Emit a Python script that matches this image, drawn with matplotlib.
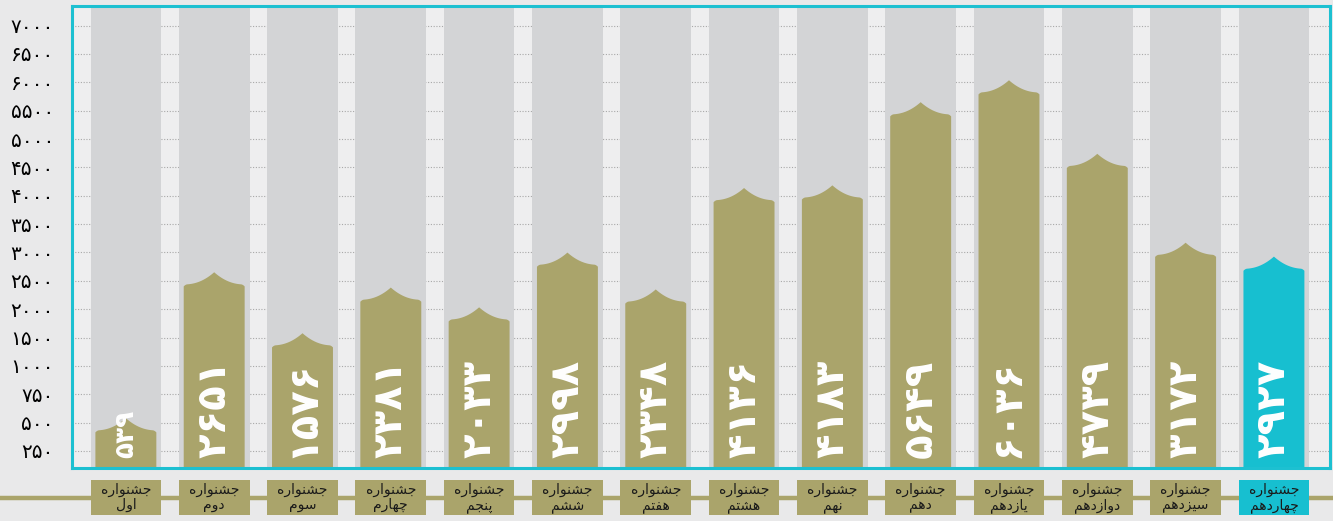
import numpy as np
import matplotlib
matplotlib.use('Agg')
import matplotlib.pyplot as plt
from matplotlib.patches import Polygon, Rectangle
from matplotlib.lines import Line2D

# Data
festivals = ['اول', 'دوم', 'سوم', 'چهارم', 'پنجم', 'ششم', 'هفتم',
             'هشتم', 'نهم', 'دهم', 'یازدهم', 'دوازدهم', 'سیزدهم', 'چهاردهم']
counts = [539, 2651, 1576, 2381, 2033, 2998, 2348,
          4136, 4183, 5649, 6036, 4739, 3172, 2927]
yticks = [250, 500, 750, 1000, 1500, 2000, 2500, 3000, 3500,
          4000, 4500, 5000, 5500, 6000, 6500, 7000]
prefix = 'جشنواره'

OLIVE = '#aaa46b'
CYAN = '#17bfd0'

FA_DIGITS = str.maketrans('0123456789', '۰۱۲۳۴۵۶۷۸۹')

# minimal arabic shaping (matplotlib has no complex text layout)
FORMS = {
    'ا': ('\uFE8D', '\uFE8E', None, None),
    'پ': ('\uFB56', '\uFB57', '\uFB58', '\uFB59'),
    'ت': ('\uFE95', '\uFE96', '\uFE97', '\uFE98'),
    'ج': ('\uFE9D', '\uFE9E', '\uFE9F', '\uFEA0'),
    'چ': ('\uFB7A', '\uFB7B', '\uFB7C', '\uFB7D'),
    'د': ('\uFEA9', '\uFEAA', None, None),
    'ر': ('\uFEAD', '\uFEAE', None, None),
    'ز': ('\uFEAF', '\uFEB0', None, None),
    'س': ('\uFEB1', '\uFEB2', '\uFEB3', '\uFEB4'),
    'ش': ('\uFEB5', '\uFEB6', '\uFEB7', '\uFEB8'),
    'ف': ('\uFED1', '\uFED2', '\uFED3', '\uFED4'),
    'ل': ('\uFEDD', '\uFEDE', '\uFEDF', '\uFEE0'),
    'م': ('\uFEE1', '\uFEE2', '\uFEE3', '\uFEE4'),
    'ن': ('\uFEE5', '\uFEE6', '\uFEE7', '\uFEE8'),
    'ه': ('\uFEE9', '\uFEEA', '\uFEEB', '\uFEEC'),
    'و': ('\uFEED', '\uFEEE', None, None),
    'ی': ('\uFBFC', '\uFBFD', '\uFBFE', '\uFBFF'),
}


def shape(word):
    out = []
    for i, ch in enumerate(word):
        if ch not in FORMS:
            out.append(ch)
            continue
        prev = word[i - 1] if i > 0 else None
        nxt = word[i + 1] if i + 1 < len(word) else None
        join_prev = prev in FORMS and FORMS[prev][2] is not None
        join_next = nxt in FORMS and FORMS[ch][2] is not None
        iso, fin, ini, med = FORMS[ch]
        if join_prev and join_next:
            out.append(med)
        elif join_prev:
            out.append(fin)
        elif join_next:
            out.append(ini)
        else:
            out.append(iso)
    return ''.join(reversed(out))


# axis is 250 per step up to 1000, then 500 per step
def fwd(v):
    v = np.asarray(v, float)
    return np.where(v <= 1000, v / 250, 4 + (v - 1000) / 500)


def inv(s):
    s = np.asarray(s, float)
    return np.where(s <= 4, s * 250, 1000 + (s - 4) * 500)


fig = plt.figure(figsize=(13.33, 5.21), dpi=100, facecolor='#e9e9ea')
ax = fig.add_axes([72 / 1333, 1 - 468 / 521, (1330 - 72) / 1333, (468 - 6) / 521])
ax.set_facecolor('#eeeeef')
ax.set_yscale('function', functions=(fwd, inv))
ax.set_ylim(100, 7345)
ax.set_xlim(-0.61, 13.635)

x = np.arange(len(counts))
col_w = 0.80
bar_w = 0.69
arch_h = 0.43  # in axis steps

for i, v in enumerate(counts):
    ax.axvspan(i - col_w / 2, i + col_w / 2, color='#d3d4d6', zorder=1, lw=0)

    color = CYAN if i == len(counts) - 1 else OLIVE
    top = float(fwd(v))
    shoulder = top - arch_h
    u = np.linspace(-1, 1, 81)
    s = shoulder + arch_h * (1 - np.abs(u)) ** 2.2
    s -= 0.07 * np.clip((np.abs(u) - 0.88) / 0.12, 0, 1) ** 2
    xs = i + u * bar_w / 2
    ys = inv(s)
    verts = [(i - bar_w / 2, 0)] + list(zip(xs, ys)) + [(i + bar_w / 2, 0)]
    ax.add_patch(Polygon(verts, closed=True, facecolor=color, edgecolor='none', zorder=2))

    # short first bar gets a smaller number so it stays inside
    fs = 19 if v < 1000 else 29
    ax.text(i, 0.022, str(v).translate(FA_DIGITS), transform=ax.get_xaxis_transform(),
            rotation=90, ha='center', va='bottom', color='white',
            fontsize=fs, fontweight='bold', zorder=3)

    # label box under the chart
    ax.add_patch(Rectangle((i - col_w / 2, -0.1017), col_w, 0.0757,
                           transform=ax.get_xaxis_transform(), clip_on=False,
                           facecolor=color, edgecolor='none', zorder=3))
    ax.text(i, -0.064, shape(prefix) + '\n' + shape(festivals[i]),
            transform=ax.get_xaxis_transform(), ha='center', va='center',
            fontsize=10, color='#1a1a1a', linespacing=1.1, clip_on=False, zorder=4)

ax.set_yticks(yticks)
ax.set_yticklabels([str(t).translate(FA_DIGITS) for t in yticks], fontsize=14.5)
ax.yaxis.set_minor_locator(plt.NullLocator())
ax.tick_params(axis='y', length=0, pad=13)
ax.set_xticks([])
ax.grid(axis='y', linestyle=(0, (1, 1.5)), color='#a8a8a8', lw=0.8, zorder=0)
ax.set_axisbelow(True)

for sp in ax.spines.values():
    sp.set_color('#1dc0d1')
    sp.set_linewidth(2.2)
    sp.set_zorder(5)

fig.add_artist(Line2D([0, 1], [1 - 498 / 521] * 2, transform=fig.transFigure,
                      color=OLIVE, lw=3.2, zorder=-1))

fig.savefig('out.png', dpi=100, facecolor=fig.get_facecolor())
